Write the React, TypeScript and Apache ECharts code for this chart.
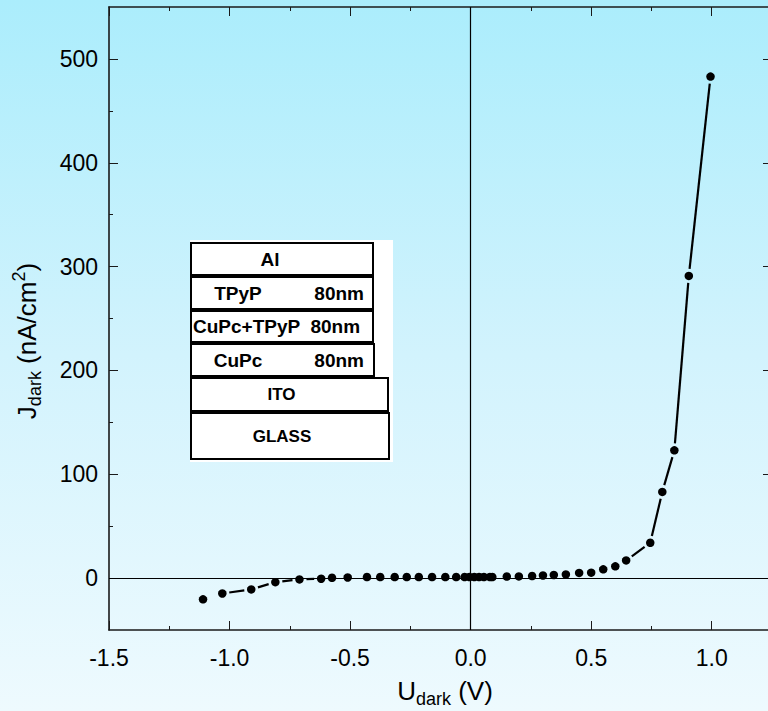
import React, { useEffect, useRef } from "react";
import * as echarts from "echarts";

// Dark J-V data
const voltage = [
  -1.11, -1.03, -0.91, -0.81, -0.71, -0.62, -0.575, -0.51, -0.43, -0.375,
  -0.315, -0.265, -0.215, -0.16, -0.105, -0.06, -0.025, -0.005, 0.015, 0.035,
  0.055, 0.08, 0.09, 0.15, 0.2, 0.255, 0.3, 0.345, 0.395, 0.45,
  0.5, 0.55, 0.6, 0.645, 0.745, 0.795, 0.845, 0.905, 0.995,
];
const current = [
  -20.5, -14.8, -10.9, -3.9, -1.3, -0.6, 0.3, 0.6, 1, 1,
  1, 1, 1, 1, 1, 1, 1, 1, 1, 1,
  1, 1, 1, 1.5, 1.6, 2, 2.5, 3, 3.5, 5,
  5.2, 8.4, 11.3, 17, 34, 83, 123, 291, 483,
];

const xMajorTicks = [-1.5, -1.0, -0.5, 0.0, 0.5, 1.0];
const xMinorTicks = [-1.25, -0.75, -0.25, 0.25, 0.75];
const yMajorTicks = [0, 100, 200, 300, 400, 500];
const yMinorTicks = [50, 150, 250, 350, 450];
const xRange = [-1.5, 1.25];
const yRange = [-50, 550];

const layers = [
  { name: "Al", thick: "" },
  { name: "TPyP", thick: "80nm" },
  { name: "CuPc+TPyP", thick: "80nm" },
  { name: "CuPc", thick: "80nm" },
  { name: "ITO", thick: "" },
  { name: "GLASS", thick: "" },
];

const FONT = "'Liberation Sans', Arial, sans-serif";

export default function App() {
  const ref = useRef<HTMLDivElement>(null);

  useEffect(() => {
    if (!ref.current) return;
    const chart = echarts.init(ref.current, null, { renderer: "svg" });

    const points = voltage.map((v, i) => [v, current[i]]);
    const segs = voltage.slice(0, -1).map((v, i) => [v, current[i], voltage[i + 1], current[i + 1]]);

    const baseX = (pos: string, ticks: number[], len: number, showLine: boolean, showLabel: boolean) => ({
      type: "value",
      position: pos,
      min: xRange[0],
      max: xRange[1],
      interval: 0.25,
      splitLine: { show: false },
      axisLine: { show: showLine, onZero: false, lineStyle: { color: "#1a1a1a", width: 1.6 } },
      axisTick: { show: true, inside: true, length: len, customValues: ticks, lineStyle: { color: "#1a1a1a", width: 1 } },
      axisLabel: {
        show: showLabel,
        customValues: ticks,
        margin: 16,
        formatter: (v: number) => v.toFixed(1),
        color: "#000",
        fontSize: 23,
        fontFamily: FONT,
      },
    });
    const baseY = (pos: string, ticks: number[], len: number, showLine: boolean, showLabel: boolean) => ({
      type: "value",
      position: pos,
      min: yRange[0],
      max: yRange[1],
      interval: 50,
      splitLine: { show: false },
      axisLine: { show: showLine, onZero: false, lineStyle: { color: "#1a1a1a", width: 1.6 } },
      axisTick: { show: true, inside: true, length: len, customValues: ticks, lineStyle: { color: "#1a1a1a", width: 1 } },
      axisLabel: {
        show: showLabel,
        customValues: ticks,
        margin: 11,
        color: "#000",
        fontSize: 23,
        fontFamily: FONT,
      },
    });

    const layerY = [243, 277, 311, 344, 378, 413];
    const layerH = [32, 32, 31, 32, 33, 46];
    const layerW = [182, 182, 182, 183, 197, 198];
    const insetChildren: any[] = [
      { type: "rect", shape: { x: 190, y: 240, width: 203, height: 222 }, style: { fill: "#ffffff" } },
    ];
    layers.forEach((l, i) => {
      insetChildren.push({
        type: "rect",
        shape: { x: 191, y: layerY[i], width: layerW[i], height: layerH[i] },
        style: { fill: "#ffffff", stroke: "#000", lineWidth: 2 },
      });
      const cy = layerY[i] + layerH[i] / 2;
      const small = l.name === "ITO" || l.name === "GLASS";
      if (l.thick === "") {
        insetChildren.push({
          type: "text",
          x: 191 + layerW[i] / 2 - (l.name === "Al" ? 12 : 8),
          y: cy,
          style: { text: l.name, fill: "#000", fontSize: small ? 17 : 19, fontWeight: "bold", fontFamily: FONT, align: "center", verticalAlign: "middle" },
        });
      } else if (l.name === "CuPc+TPyP") {
        insetChildren.push({
          type: "text",
          x: 193,
          y: cy,
          style: { text: l.name + "  " + l.thick, fill: "#000", fontSize: 19, fontWeight: "bold", fontFamily: FONT, align: "left", verticalAlign: "middle" },
        });
      } else {
        insetChildren.push({
          type: "text",
          x: 238,
          y: cy,
          style: { text: l.name, fill: "#000", fontSize: 19, fontWeight: "bold", fontFamily: FONT, align: "center", verticalAlign: "middle" },
        });
        insetChildren.push({
          type: "text",
          x: 364,
          y: cy,
          style: { text: l.thick, fill: "#000", fontSize: 19, fontWeight: "bold", fontFamily: FONT, align: "right", verticalAlign: "middle" },
        });
      }
    });

    chart.setOption({
      animation: false,
      backgroundColor: "transparent",
      grid: { left: 109, top: 7, width: 663, height: 623, containLabel: false },
      xAxis: [
        baseX("bottom", xMajorTicks, 9, true, true),
        baseX("bottom", xMinorTicks, 4, false, false),
        baseX("top", xMajorTicks, 9, true, false),
        baseX("top", xMinorTicks, 4, false, false),
      ],
      yAxis: [
        baseY("left", yMajorTicks, 9, true, true),
        baseY("left", yMinorTicks, 4, false, false),
        baseY("right", yMajorTicks, 9, true, false),
        baseY("right", yMinorTicks, 4, false, false),
      ],
      series: [
        {
          type: "custom",
          xAxisIndex: 0,
          yAxisIndex: 0,
          data: segs,
          encode: { x: [0, 2], y: [1, 3] },
          silent: true,
          z: 3,
          renderItem: (_p: any, api: any) => {
            const p0 = api.coord([api.value(0), api.value(1)]);
            const p1 = api.coord([api.value(2), api.value(3)]);
            const dx = p1[0] - p0[0];
            const dy = p1[1] - p0[1];
            const len = Math.hypot(dx, dy);
            const gap = 7;
            if (len - 2 * gap < 7) return { type: "group", children: [] };
            const ux = dx / len;
            const uy = dy / len;
            return {
              type: "line",
              shape: { x1: p0[0] + ux * gap, y1: p0[1] + uy * gap, x2: p1[0] - ux * gap, y2: p1[1] - uy * gap },
              style: { stroke: "#000", lineWidth: 2.2 },
            };
          },
        },
        {
          type: "scatter",
          xAxisIndex: 0,
          yAxisIndex: 0,
          data: points,
          symbol: "circle",
          symbolSize: 8.5,
          itemStyle: { color: "#000", opacity: 1 },
          z: 4,
          markLine: {
            silent: true,
            symbol: "none",
            label: { show: false },
            lineStyle: { color: "#000", width: 1.2, type: "solid" },
            data: [{ xAxis: 0 }, { yAxis: 0 }],
          },
        },
      ],
      graphic: [
        { type: "group", children: insetChildren, z: 10 },
        {
          type: "text",
          x: 445,
          y: 691,
          style: {
            text: "{m|U}{s|dark}{m| (V)}",
            align: "center",
            verticalAlign: "middle",
            fill: "#000",
            rich: {
              m: { fontSize: 26, fontFamily: FONT, fill: "#000" },
              s: { fontSize: 18, fontFamily: FONT, fill: "#000", padding: [16, 0, 0, 0] },
            },
          },
        },
        {
          type: "text",
          x: 27,
          y: 341,
          rotation: Math.PI / 2,
          style: {
            text: "{m|J}{s|dark}{m| (nA/cm}{p|2}{m|)}",
            align: "center",
            verticalAlign: "middle",
            fill: "#000",
            rich: {
              m: { fontSize: 26, fontFamily: FONT, fill: "#000" },
              s: { fontSize: 18, fontFamily: FONT, fill: "#000", padding: [16, 0, 0, 0] },
              p: { fontSize: 18, fontFamily: FONT, fill: "#000", padding: [0, 0, 16, 0] },
            },
          },
        },
      ],
    });

    return () => chart.dispose();
  }, []);

  return (
    <div
      style={{
        position: "absolute",
        left: 0,
        top: 0,
        width: 768,
        height: 711,
        background: "linear-gradient(to bottom, #abedfc 0%, #d2f3fd 50%, #eefafe 100%)",
        overflow: "hidden",
      }}
    >
      <div ref={ref} style={{ width: 790, height: 711 }} />
    </div>
  );
}
